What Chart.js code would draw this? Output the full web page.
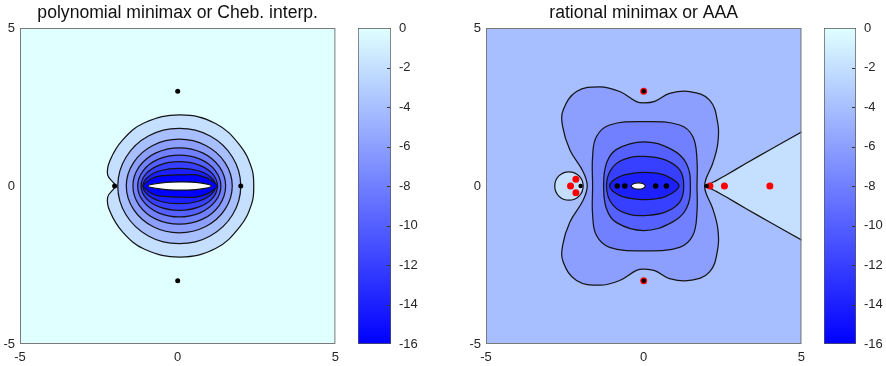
<!DOCTYPE html>
<html>
<head>
<meta charset="utf-8">
<script src="https://cdn.jsdelivr.net/npm/chart.js@4.4.1/dist/chart.umd.min.js"></script>
<style>
  body { margin: 0; background: #fff; width: 886px; height: 366px; position: relative; overflow: hidden; }
  canvas { position: absolute; top: 0; }
</style>
</head>
<body>
<canvas id="poly" width="345" height="366" style="left:0px"></canvas>
<canvas id="polyBar" width="85" height="366" style="left:345px"></canvas>
<canvas id="rat" width="381" height="366" style="left:430px"></canvas>
<canvas id="ratBar" width="75" height="366" style="left:811px"></canvas>
<script>
// axes
const axisMin = -5, axisMax = 5, axisStep = 5;
const cbarMin = -16, cbarMax = 0, cbarStep = 2;
const titles = ['polynomial minimax or Cheb. interp.', 'rational minimax or AAA'];

// left panel: contour lines of log10|f - p|
const polyC0 = [[0.08,2.25],[1.2,1.98],[1.98,1.28],[2.35,0.55],[2.41,0],[2.35,-0.55],[1.98,-1.28],[1.2,-1.98],[0.08,-2.25],[-1.05,-2.0],[-1.75,-1.45],[-2.15,-0.8],[-2.22,-0.35],[-1.99,-0.04],[-1.99,0.04],[-2.22,0.35],[-2.15,0.8],[-1.75,1.45],[-1.05,2.0],[0.08,2.25]];
const polyC2 = [[2.0,0],[1.74,0.91],[1.03,1.58],[0.05,1.82],[-0.93,1.58],[-1.64,0.91],[-1.9,0],[-1.64,-0.91],[-0.93,-1.58],[0.05,-1.82],[1.03,-1.58],[1.74,-0.91],[2.0,0]];
const polyC4 = [[1.73,0],[1.5,0.74],[0.89,1.28],[0.05,1.48],[-0.79,1.28],[-1.4,0.74],[-1.63,0],[-1.4,-0.74],[-0.79,-1.28],[0.05,-1.48],[0.89,-1.28],[1.5,-0.74],[1.73,0]];
const polyC6 = [[1.52,0],[1.32,0.61],[0.79,1.05],[0.05,1.21],[-0.69,1.05],[-1.22,0.61],[-1.42,0],[-1.22,-0.61],[-0.69,-1.05],[0.05,-1.21],[0.79,-1.05],[1.32,-0.61],[1.52,0]];
const polyC8 = [[1.37,0],[1.19,0.49],[0.71,0.85],[0.05,0.98],[-0.61,0.85],[-1.09,0.49],[-1.27,0],[-1.09,-0.49],[-0.61,-0.85],[0.05,-0.98],[0.71,-0.85],[1.19,-0.49],[1.37,0]];
const polyC10 = [[1.26,0],[1.1,0.39],[0.66,0.67],[0.05,0.77],[-0.56,0.67],[-1.0,0.39],[-1.16,0],[-1.0,-0.39],[-0.56,-0.67],[0.05,-0.77],[0.66,-0.67],[1.1,-0.39],[1.26,0]];
const polyC12 = [[1.2,0],[1.05,0.28],[0.63,0.49],[0.05,0.56],[-0.53,0.49],[-0.95,0.28],[-1.1,0],[-0.95,-0.28],[-0.53,-0.49],[0.05,-0.56],[0.63,-0.49],[1.05,-0.28],[1.2,0]];
const polyC14 = [[1.27,0],[0.95,0.24],[0.55,0.36],[-0.55,0.32],[-0.85,0.22],[-1.1,0],[-0.85,-0.22],[-0.55,-0.32],[0.55,-0.36],[0.95,-0.24],[1.27,0]];
const polyC16 = [[1.07,0],[0.7,0.1],[0.1,0.13],[-0.5,0.1],[-0.95,0],[-0.5,-0.1],[0.1,-0.13],[0.7,-0.1],[1.07,0]];
const polySingular = [[0,3],[0,-3],[-2,0],[2,0]];

// right panel: contour lines of log10|f - r|
const ratWedge = [[1.99,0],[2.3,0.17],[2.62,0.35],[3.25,0.72],[3.99,1.14],[5.03,1.72],[5.5,2.0],[5.5,-2.0],[5.03,-1.72],[3.99,-1.14],[3.25,-0.72],[2.62,-0.35],[2.3,-0.17],[1.99,0]];
const ratCircle = [[-1.92,0],[-2.05,0.32],[-2.37,0.45],[-2.69,0.32],[-2.82,0],[-2.69,-0.32],[-2.37,-0.45],[-2.05,-0.32],[-1.92,0]];
const ratC4 = [[-1.79,0],[-1.92,0.45],[-2.34,1.14],[-2.57,1.88],[-2.55,2.41],[-2.13,2.99],[-1.39,3.14],[-0.76,2.99],[-0.23,2.67],[0,2.63],[0.35,2.68],[0.82,2.93],[1.46,2.99],[2.09,2.72],[2.35,1.98],[2.35,1.35],[2.19,0.72],[1.98,0.24],[1.93,0],[1.98,-0.24],[2.19,-0.72],[2.35,-1.35],[2.35,-1.98],[2.09,-2.72],[1.46,-2.99],[0.82,-2.93],[0.35,-2.68],[0,-2.63],[-0.23,-2.67],[-0.76,-2.99],[-1.39,-3.14],[-2.13,-2.99],[-2.55,-2.41],[-2.57,-1.88],[-2.34,-1.14],[-1.92,-0.45],[-1.79,0]];
const ratC6 = [[-1.62,0],[-1.62,0.93],[-1.5,1.56],[-1.08,1.93],[0,2.04],[1.14,1.93],[1.56,1.56],[1.69,0.82],[1.69,0],[1.69,-0.82],[1.56,-1.56],[1.14,-1.94],[0,-2.05],[-1.08,-1.94],[-1.5,-1.56],[-1.62,-0.9],[-1.62,0]];
const ratC8 = [[-1.27,0],[-1.18,0.72],[-0.86,1.16],[0,1.4],[0.88,1.16],[1.35,0.72],[1.48,0],[1.35,-0.72],[0.88,-1.16],[0,-1.41],[-0.86,-1.16],[-1.18,-0.72],[-1.27,0]];
const ratC10 = [[-1.18,0],[-0.98,0.6],[-0.45,0.9],[0.1,0.93],[0.7,0.82],[1.15,0.5],[1.27,0],[1.15,-0.5],[0.7,-0.82],[0.1,-0.93],[-0.45,-0.9],[-0.98,-0.6],[-1.18,0]];
const ratC12 = [[-1.08,0],[-0.8,0.28],[-0.3,0.41],[0.2,0.42],[0.7,0.33],[1.12,0],[0.7,-0.33],[0.2,-0.42],[-0.3,-0.41],[-0.8,-0.28],[-1.08,0]];
const ratC16 = [[-0.4,0],[-0.3,0.08],[-0.17,0.1],[-0.03,0.08],[0.05,0],[-0.03,-0.08],[-0.17,-0.1],[-0.3,-0.08],[-0.4,0]];
const ratPoles = [[0,3],[0,-3],[2.1,0],[2.56,0],[4,0],[-2.32,0],[-2.15,0.21],[-2.15,-0.21]];
const ratSingular = [[0,3],[0,-3],[2,0],[-2,0]];
const ratInner = [[-0.84,0],[-0.6,0],[0.38,0],[0.72,0]];

const FONT = 'Liberation Sans, Arial, Helvetica, sans-serif';
const TEXT = '#262626';

// colormap: blue at -16 up to pale cyan at 0
function cmap(level) {
  if (level === null) return '#ffffff';
  const t = (level - cbarMin) / (cbarMax - cbarMin);
  return `rgb(${Math.round(224 * t)},${Math.round(255 * t)},255)`;
}

// closed contour: wrap one point at each end so the spline closes smoothly
function contour(pts, fillLevel, tension) {
  const u = pts.slice(0, -1);
  const data = [u[u.length - 1], ...u, u[0], u[1]].map(([x, y]) => ({x, y}));
  const last = data.length - 1;
  return {
    data,
    showLine: true,
    fill: 'shape',
    tension: tension === undefined ? 0.4 : tension,
    backgroundColor: cmap(fillLevel),
    borderColor: '#151515',
    borderWidth: 1.25,
    pointRadius: 0,
    clip: 0,
    segment: {
      borderColor: c => (c.p0DataIndex === 0 || c.p1DataIndex === last) ? 'rgba(0,0,0,0)' : undefined
    }
  };
}

function dots(pts, color, r) {
  return {
    data: pts.map(([x, y]) => ({x, y})),
    showLine: false,
    pointRadius: r,
    pointBackgroundColor: color,
    pointBorderWidth: 0,
    clip: 0
  };
}

const areaPlugin = {
  id: 'area',
  beforeDraw(chart, args, opts) {
    const a = chart.chartArea, ctx = chart.ctx;
    ctx.save();
    ctx.fillStyle = opts.bg;
    ctx.fillRect(a.left, a.top, a.right - a.left, a.bottom - a.top);
    ctx.restore();
  },
  afterDraw(chart, args, opts) {
    const a = chart.chartArea, ctx = chart.ctx;
    ctx.save();
    ctx.strokeStyle = opts.box;
    ctx.lineWidth = 1;
    ctx.strokeRect(a.left + 0.5, a.top + 0.5, a.right - a.left - 1, a.bottom - a.top - 1);
    ctx.restore();
  }
};

function panel(id, title, bgLevel, sets, yWidth) {
  sets.forEach((s, i) => { s.order = sets.length - i; });
  return new Chart(document.getElementById(id), {
    type: 'scatter',
    data: { datasets: sets },
    options: {
      responsive: false,
      animation: false,
      events: [],
      layout: { padding: { right: 9 } },
      plugins: {
        legend: { display: false },
        tooltip: { enabled: false },
        title: {
          display: true, text: title, fullSize: false, color: '#111',
          font: { family: FONT, size: 17.6, weight: 'normal', lineHeight: '20px' },
          padding: { top: 3, bottom: 5 }
        },
        area: { bg: cmap(bgLevel), box: '#7a7a7a' }
      },
      scales: {
        x: {
          type: 'linear', min: axisMin, max: axisMax,
          ticks: { stepSize: axisStep, color: TEXT, font: { family: FONT, size: 13 }, padding: 6, maxRotation: 0 },
          grid: { display: false, drawTicks: false },
          border: { display: false },
          afterFit: s => { s.height = 22; }
        },
        y: {
          type: 'linear', min: axisMin, max: axisMax,
          ticks: { stepSize: axisStep, color: TEXT, font: { family: FONT, size: 13 }, padding: 5 },
          grid: { display: false, drawTicks: false },
          border: { display: false },
          afterFit: s => { s.width = yWidth; }
        }
      }
    },
    plugins: [areaPlugin]
  });
}

const cbarTicksPlugin = {
  id: 'cbarTicks',
  afterDatasetsDraw(chart) {
    const a = chart.chartArea, ctx = chart.ctx, y = chart.scales.y;
    ctx.save();
    ctx.strokeStyle = '#333';
    ctx.lineWidth = 1;
    y.ticks.forEach(t => {
      if (t.value === cbarMin || t.value === cbarMax) return;
      const py = Math.round(y.getPixelForValue(t.value)) + 0.5;
      ctx.beginPath();
      ctx.moveTo(a.right - 4, py);
      ctx.lineTo(a.right - 1, py);
      ctx.stroke();
    });
    ctx.restore();
  }
};

function colorbar(id, padLeft, axisWidth) {
  return new Chart(document.getElementById(id), {
    type: 'bar',
    data: {
      labels: [''],
      datasets: [{
        data: [[cbarMin, cbarMax]],
        backgroundColor: c => {
          const a = c.chart.chartArea;
          if (!a) return cmap(cbarMax);
          const g = c.chart.ctx.createLinearGradient(0, a.bottom, 0, a.top);
          g.addColorStop(0, cmap(cbarMin));
          g.addColorStop(1, cmap(cbarMax));
          return g;
        },
        borderColor: '#555',
        borderWidth: 1,
        borderSkipped: false,
        barPercentage: 1,
        categoryPercentage: 1
      }]
    },
    options: {
      responsive: false,
      animation: false,
      events: [],
      layout: { padding: { left: padLeft, top: 28, bottom: 22 } },
      plugins: { legend: { display: false }, tooltip: { enabled: false } },
      scales: {
        x: { display: false },
        y: {
          position: 'right', min: cbarMin, max: cbarMax,
          ticks: { stepSize: cbarStep, color: TEXT, font: { family: FONT, size: 13 }, padding: 8 },
          grid: { display: false, drawTicks: false },
          border: { display: false },
          afterFit: s => { s.width = axisWidth; }
        }
      }
    },
    plugins: [cbarTicksPlugin]
  });
}

panel('poly', titles[0], 0, [
  contour(polyC0, -2),
  contour(polyC2, -4),
  contour(polyC4, -6),
  contour(polyC6, -8),
  contour(polyC8, -10),
  contour(polyC10, -12),
  contour(polyC12, -14),
  contour(polyC14, -16, 0.2),
  contour(polyC16, null),
  dots(polySingular, '#000', 2.5)
], 20);

panel('rat', titles[1], -4, [
  contour(ratWedge, -2, 0.15),
  contour(ratCircle, -2),
  contour(ratC4, -6),
  contour(ratC6, -8),
  contour(ratC8, -10),
  contour(ratC10, -12),
  contour(ratC12, -14),
  contour(ratC16, null),
  dots(ratPoles, '#ff0000', 3.5),
  dots(ratSingular, '#000', 2.2),
  dots(ratInner, '#000', 2.8)
], 56);

colorbar('polyBar', 13, 39);
colorbar('ratBar', 13, 30);
</script>
</body>
</html>
